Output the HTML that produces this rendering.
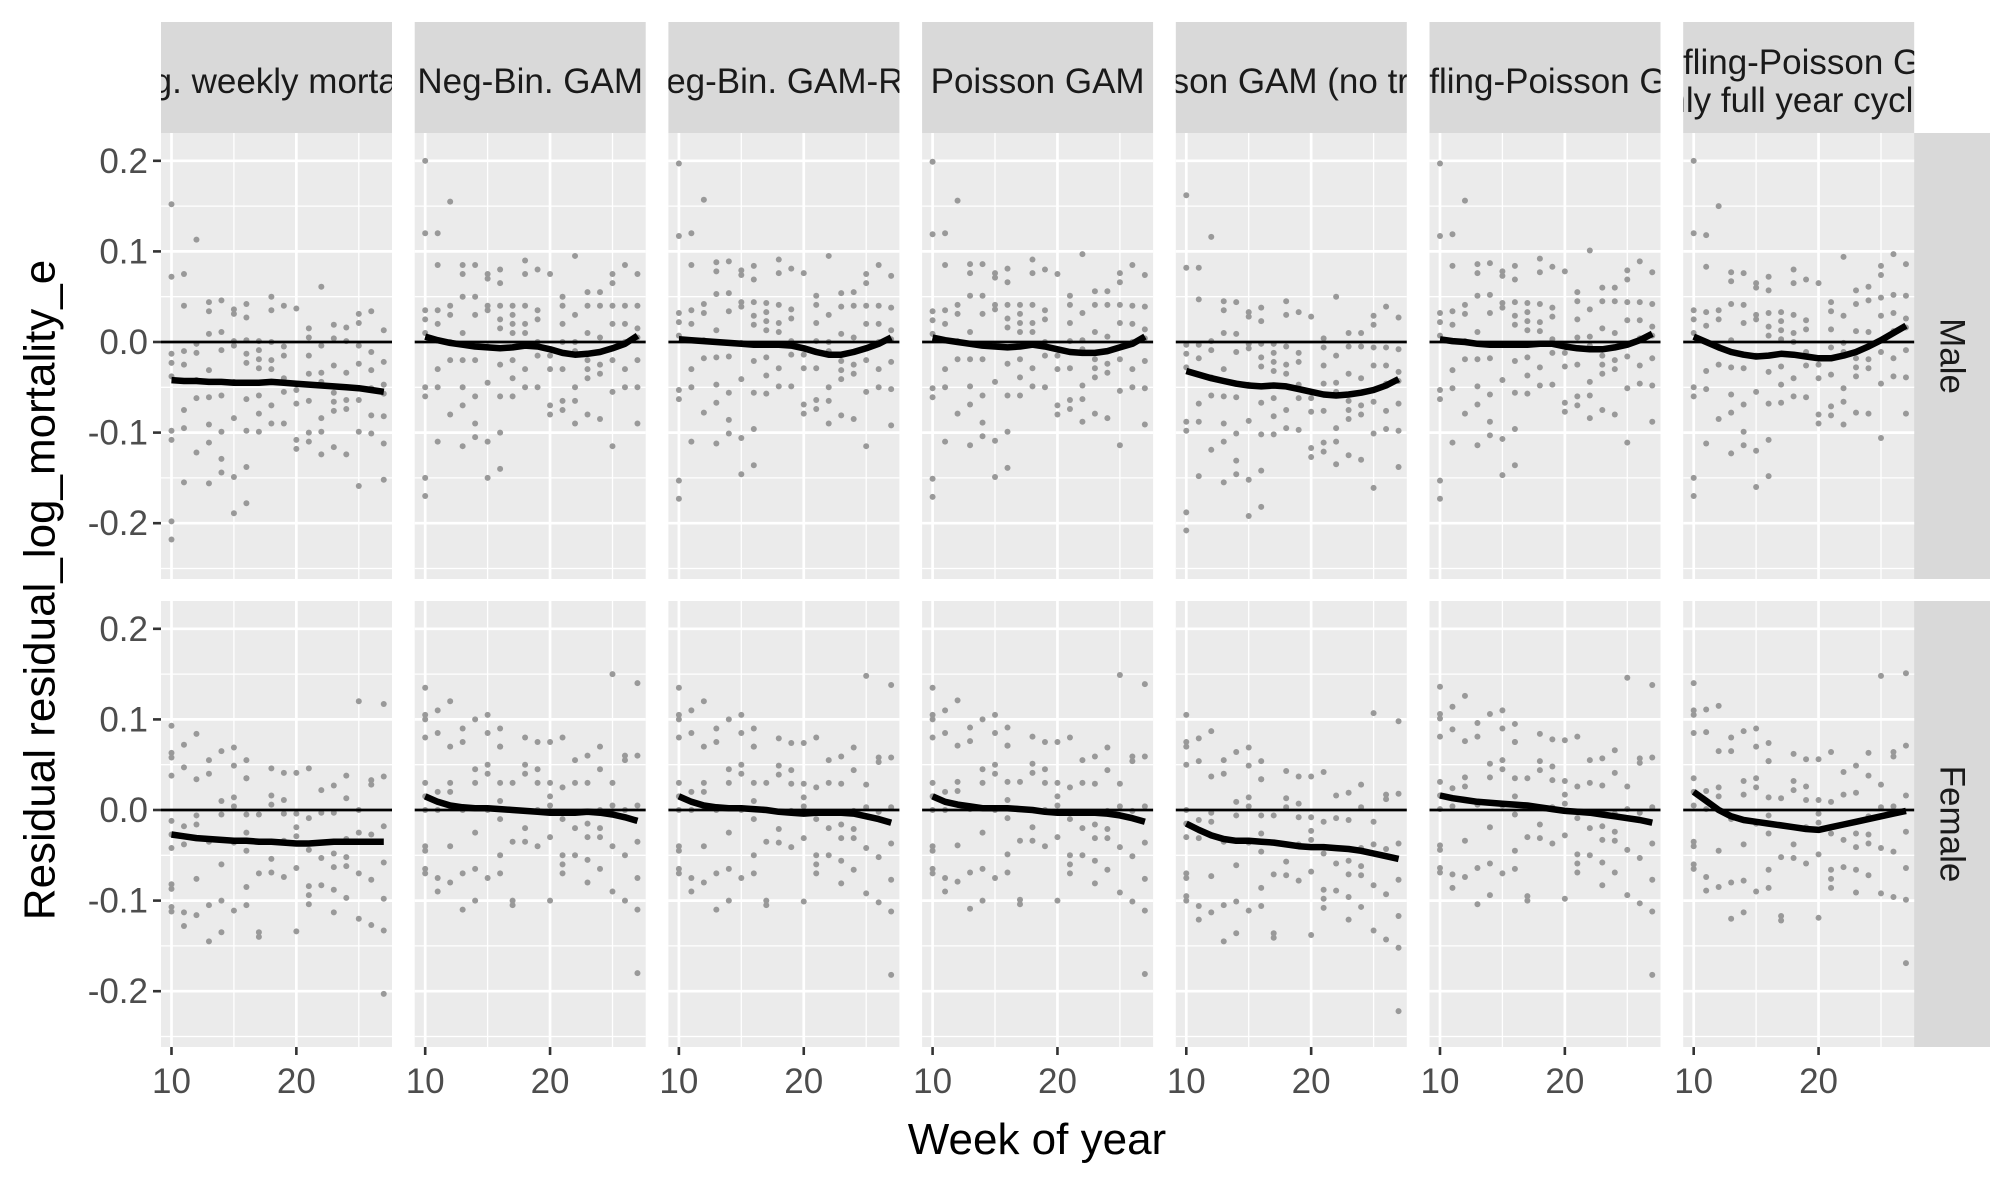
<!DOCTYPE html>
<html><head><meta charset="utf-8"><style>
body{margin:0;background:#fff}
svg{display:block}
text{font-family:"Liberation Sans",Arial,sans-serif}
</style></head><body>
<svg id="chart" width="2007" height="1181" viewBox="0 0 2007 1181" xmlns="http://www.w3.org/2000/svg"></svg>
<script>
const models = ["Avg. weekly mortality","Neg-Bin. GAM","Neg-Bin. GAM-RE","Poisson GAM","Poisson GAM (no trend)","Serfling-Poisson GLM","Serfling-Poisson GLM\n(only full year cycles)"];
const sexes = ["Male","Female"];
const weeks = [10,11,12,13,14,15,16,17,18,19,20,21,22,23,24,25,26,27];
const xTicks = [10,20];
const yTicks = [-0.2,-0.1,0.0,0.1,0.2];
const yTickLabels = ["-0.2","-0.1","0.0","0.1","0.2"];
const malePoints = [
[0.2,0.12,0.035,0.025,0.01,-0.05,-0.06,-0.15,-0.17],
[0.12,0.085,0.035,0.02,-0.03,-0.05,-0.11],
[0.155,0.04,0.03,0.0,-0.02,-0.08],
[0.085,0.075,0.05,0.01,-0.02,-0.05,-0.07,-0.115],
[0.085,0.05,0.03,-0.02,-0.06,-0.09,-0.105],
[0.075,0.07,0.04,0.035,-0.005,-0.045,-0.11,-0.15],
[0.08,0.065,0.04,0.025,0.015,-0.025,-0.06,-0.1,-0.14],
[0.04,0.03,0.02,0.01,-0.02,-0.04,-0.06],
[0.09,0.075,0.04,0.02,0.01,-0.03,-0.05],
[0.08,0.035,0.025,0.0,-0.015,-0.05],
[0.075,-0.015,-0.03,-0.07,-0.08],
[0.05,0.04,0.02,0.0,-0.03,-0.065,-0.075],
[0.095,0.03,0.0,-0.01,-0.05,-0.065,-0.09],
[0.055,0.04,0.01,-0.02,-0.03,-0.04,-0.08],
[0.055,0.04,0.005,-0.025,-0.035,-0.085],
[0.075,0.065,0.04,0.02,-0.02,-0.055,-0.115],
[0.085,0.04,0.02,0.0,-0.03,-0.05],
[0.075,0.04,0.015,0.005,-0.02,-0.05,-0.09]];
const femalePoints = [
[0.135,0.105,0.1,0.08,0.03,0.015,0.0,-0.04,-0.045,-0.065,-0.07],
[0.11,0.085,0.02,0.0,-0.075,-0.09],
[0.12,0.07,0.03,0.02,-0.04,-0.08],
[0.09,0.075,0.0,-0.07,-0.11],
[0.1,0.045,0.03,-0.025,-0.065,-0.1],
[0.105,0.085,0.05,0.04,0.0,-0.075],
[0.09,0.07,0.07,0.03,0.01,-0.01,-0.05,-0.07],
[0.03,0.0,-0.035,-0.1,-0.105],
[0.08,0.05,0.04,-0.02,-0.035],
[0.075,0.045,0.03,0.0,-0.04],
[0.075,0.03,0.015,0.005,-0.03,-0.1],
[0.08,0.025,-0.01,-0.05,-0.06,-0.07],
[0.055,0.03,-0.02,-0.05],
[0.06,0.03,-0.015,-0.03,-0.055,-0.08],
[0.07,0.045,0.0,-0.02,-0.03,-0.065],
[0.15,0.03,0.005,-0.04,-0.09],
[0.06,0.055,0.0,-0.05,-0.1],
[0.14,0.06,0.005,-0.035,-0.075,-0.11,-0.18]];
const maleSmooth = [
[-0.042,-0.043,-0.043,-0.044,-0.044,-0.045,-0.045,-0.045,-0.044,-0.045,-0.046,-0.047,-0.048,-0.049,-0.05,-0.051,-0.053,-0.055],
[0.006,0.002,-0.001,-0.003,-0.005,-0.006,-0.007,-0.006,-0.004,-0.005,-0.008,-0.012,-0.014,-0.013,-0.011,-0.007,-0.002,0.007],
[0.003,0.002,0.001,0,-0.001,-0.002,-0.003,-0.003,-0.003,-0.004,-0.007,-0.011,-0.014,-0.014,-0.011,-0.007,-0.002,0.005],
[0.005,0.002,0,-0.002,-0.004,-0.005,-0.006,-0.005,-0.003,-0.005,-0.008,-0.011,-0.012,-0.012,-0.01,-0.006,-0.002,0.006],
[-0.032,-0.036,-0.04,-0.043,-0.046,-0.048,-0.049,-0.048,-0.049,-0.052,-0.055,-0.058,-0.059,-0.058,-0.056,-0.053,-0.048,-0.041],
[0.003,0.001,0,-0.002,-0.003,-0.003,-0.003,-0.003,-0.002,-0.002,-0.005,-0.007,-0.008,-0.008,-0.006,-0.003,0.002,0.009],
[0.006,0,-0.006,-0.011,-0.014,-0.016,-0.015,-0.013,-0.014,-0.016,-0.018,-0.018,-0.015,-0.011,-0.005,0.002,0.01,0.018]];
const femaleSmooth = [
[-0.027,-0.029,-0.031,-0.032,-0.033,-0.034,-0.034,-0.035,-0.035,-0.036,-0.037,-0.037,-0.036,-0.035,-0.035,-0.035,-0.035,-0.035],
[0.015,0.009,0.005,0.003,0.002,0.002,0.001,0.0,-0.001,-0.002,-0.003,-0.003,-0.003,-0.002,-0.003,-0.005,-0.008,-0.012],
[0.015,0.009,0.005,0.003,0.002,0.002,0.001,0.0,-0.002,-0.003,-0.004,-0.003,-0.003,-0.003,-0.004,-0.007,-0.01,-0.014],
[0.015,0.009,0.006,0.004,0.002,0.002,0.002,0.001,0,-0.002,-0.003,-0.003,-0.003,-0.003,-0.004,-0.006,-0.009,-0.013],
[-0.015,-0.022,-0.028,-0.032,-0.034,-0.034,-0.035,-0.036,-0.038,-0.04,-0.041,-0.041,-0.042,-0.043,-0.045,-0.048,-0.051,-0.054],
[0.016,0.013,0.011,0.009,0.008,0.007,0.006,0.005,0.003,0.001,-0.001,-0.002,-0.003,-0.005,-0.007,-0.009,-0.011,-0.014],
[0.02,0.01,0.0,-0.007,-0.011,-0.013,-0.015,-0.017,-0.019,-0.021,-0.022,-0.019,-0.016,-0.013,-0.01,-0.007,-0.004,-0.001]];

const NS="http://www.w3.org/2000/svg";
const svg=document.getElementById('chart');
function mk(tag,attrs,parent){const e=document.createElementNS(NS,tag);for(const k in attrs)e.setAttribute(k,attrs[k]);(parent||svg).appendChild(e);return e;}
const PW=231, PERIOD=253.7, LEFT0=161;
const rowsTop=[133,601], PH=446;
const XMIN=9.16, XMAX=27.66, YMIN=-0.2616, YMAX=0.2307;
function xs(c,w){const l=LEFT0+c*PERIOD;return l+(w-XMIN)/(XMAX-XMIN)*PW;}
function ys(r,v){return rowsTop[r]+(YMAX-v)/(YMAX-YMIN)*PH;}

for(let c=0;c<models.length;c++){
  const l=LEFT0+c*PERIOD;
  const strip=mk('rect',{x:l,y:22,width:PW,height:111,fill:'#d9d9d9'});
  
  
  const cp=mk('clipPath',{id:'sc'+c});mk('rect',{x:l,y:22,width:PW,height:111},cp);
  const lines=models[c].split('\n');
  lines.forEach((ln,i)=>{
    const t=mk('text',{x:l+PW/2,y:(lines.length===1?81:62+i*38)+12,'font-size':35,'text-anchor':'middle',fill:'#1a1a1a','clip-path':'url(#sc'+c+')'});
    t.textContent=ln;
    
    
  });
}
for(let r=0;r<2;r++){
  const st=mk('rect',{x:1914,y:rowsTop[r],width:76,height:PH,fill:'#d9d9d9'});
  
  
  const cy=rowsTop[r]+PH/2;
  const t=mk('text',{x:1952,y:cy,'font-size':35,'text-anchor':'middle','dominant-baseline':'central',fill:'#1a1a1a',transform:`rotate(90 1952 ${cy})`});
  t.textContent=sexes[r];
  
  
  for(let c=0;c<models.length;c++){
    const l=LEFT0+c*PERIOD;
    const g=mk('g',{});
    
    
    mk('rect',{x:l,y:rowsTop[r],width:PW,height:PH,fill:'#ebebeb'},g);
    for(let v=-0.25;v<=0.2001;v+=0.1){const y=ys(r,v);mk('line',{x1:l,x2:l+PW,y1:y,y2:y,stroke:'#fff','stroke-width':1.3},g);}
    [15,25].forEach(w=>{const x=xs(c,w);mk('line',{x1:x,x2:x,y1:rowsTop[r],y2:rowsTop[r]+PH,stroke:'#fff','stroke-width':1.3},g);});
    yTicks.forEach(v=>{const y=ys(r,v);mk('line',{x1:l,x2:l+PW,y1:y,y2:y,stroke:'#fff','stroke-width':2.7},g);});
    xTicks.forEach(w=>{const x=xs(c,w);mk('line',{x1:x,x2:x,y1:rowsTop[r],y2:rowsTop[r]+PH,stroke:'#fff','stroke-width':2.7},g);});
    const pts=r===0?malePoints:femalePoints;
    const sm=r===0?maleSmooth:femaleSmooth;
    for(let i=0;i<weeks.length;i++){
      const off=sm[c][i]-sm[1][i];
      pts[i].forEach(v=>{
        const p=mk('circle',{cx:xs(c,weeks[i]),cy:ys(r,v+off),r:3,fill:'#999999'},g);
        
        
      });
    }
    const h=mk('line',{x1:l,x2:l+PW,y1:ys(r,0),y2:ys(r,0),stroke:'#000','stroke-width':2.8},g);
    
    
    const d=weeks.map((w,i)=>(i?'L':'M')+xs(c,w).toFixed(1)+','+ys(r,sm[c][i]).toFixed(1)).join(' ');
    const s=mk('path',{d:d,fill:'none',stroke:'#000','stroke-width':6.5,'stroke-linejoin':'round'},g);
    
    
  }
  yTicks.forEach((v,i)=>{
    const y=ys(r,v);
    mk('line',{x1:153,x2:161,y1:y,y2:y,stroke:'#333','stroke-width':2.6});
    const t=mk('text',{x:148,y:y+12,'font-size':35,'text-anchor':'end',fill:'#4d4d4d'});
    t.textContent=yTickLabels[i];
    
    
  });
}
for(let c=0;c<models.length;c++){
  xTicks.forEach(w=>{
    const x=xs(c,w);
    mk('line',{x1:x,x2:x,y1:1047,y2:1055,stroke:'#333','stroke-width':2.6});
    const t=mk('text',{x:x,y:1093,'font-size':35,'text-anchor':'middle',fill:'#4d4d4d'});
    t.textContent=String(w);
    
    
  });
}
const xt=mk('text',{x:1037,y:1154,'font-size':44,'text-anchor':'middle',fill:'#000'});
xt.textContent='Week of year';


const yt=mk('text',{x:40,y:590,'font-size':44,'text-anchor':'middle','dominant-baseline':'central',fill:'#000',transform:'rotate(-90 40 590)'});
yt.textContent='Residual residual_log_mortality_e';


</script>
</body></html>
